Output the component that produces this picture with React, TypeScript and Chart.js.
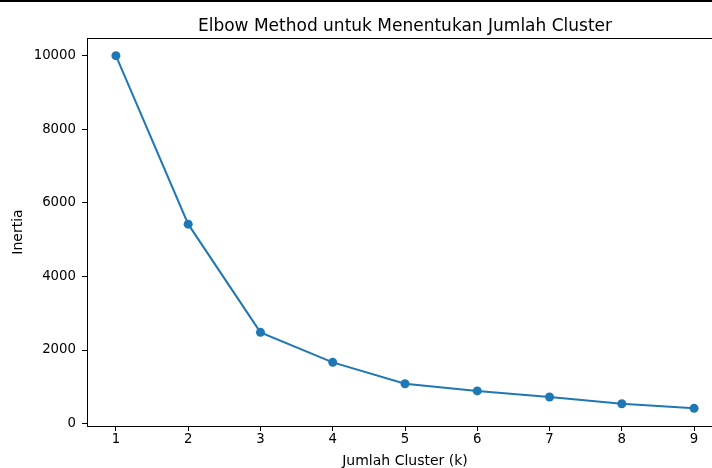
import React, { useEffect, useRef } from "react";
import { Chart, registerables } from "chart.js";

Chart.register(...registerables);

const clusters = [1, 2, 3, 4, 5, 6, 7, 8, 9];
const inertia = [10000, 5420, 2480, 1665, 1085, 890, 725, 540, 415];
const yTicks = [0, 2000, 4000, 6000, 8000, 10000];
const titleText = "Elbow Method untuk Menentukan Jumlah Cluster";
const xLabel = "Jumlah Cluster (k)";
const yLabel = "Inertia";

const FONT = '"DejaVu Sans", sans-serif';

export default function App() {
  const ref = useRef<HTMLCanvasElement | null>(null);

  useEffect(() => {
    const canvas = ref.current;
    if (!canvas) return;
    const xMinD = Math.min(...clusters);
    const xMaxD = Math.max(...clusters);
    const yMinD = Math.min(...inertia);
    const yMaxD = Math.max(...inertia);
    const xm = (xMaxD - xMinD) * 0.05;
    const ym = (yMaxD - yMinD) * 0.05;

    const framePlugin = {
      id: "frame",
      afterDraw(chart: any) {
        const { ctx, chartArea } = chart;
        const { left, top, right, bottom } = chartArea;
        ctx.save();
        ctx.strokeStyle = "#000";
        ctx.lineWidth = 1;
        ctx.strokeRect(left + 0.5, top + 0.5, right - left, bottom - top);
        ctx.fillStyle = "#000";
        ctx.font = `17px ${FONT}`;
        ctx.textAlign = "center";
        ctx.textBaseline = "alphabetic";
        ctx.fillText(titleText, (left + right) / 2, 31);
        ctx.restore();
      },
    };

    const chart = new Chart(canvas, {
      type: "line",
      data: {
        datasets: [
          {
            data: clusters.map((c, i) => ({ x: c, y: inertia[i] })),
            borderColor: "#1f77b4",
            backgroundColor: "#1f77b4",
            borderWidth: 2,
            pointRadius: 4.5,
            pointBorderWidth: 0,
            pointBackgroundColor: "#1f77b4",
            tension: 0,
            fill: false,
          },
        ],
      },
      options: {
        responsive: false,
        animation: false,
        devicePixelRatio: 1,
        layout: { padding: { top: 38, left: 0, right: 7, bottom: 0 } },
        plugins: {
          legend: { display: false },
          title: { display: false },
          tooltip: { enabled: false },
        },
        scales: {
          x: {
            type: "linear",
            min: xMinD - xm,
            max: xMaxD + xm,
            afterBuildTicks: (s: any) => {
              s.ticks = clusters.map((v) => ({ value: v }));
            },
            afterFit: (s: any) => {
              s.height = 44;
            },
            border: { display: false },
            grid: {
              drawOnChartArea: false,
              drawTicks: true,
              tickLength: 5,
              tickColor: "#000",
              tickWidth: 1,
              color: "#000",
            },
            ticks: {
              color: "#000",
              padding: 1,
              maxRotation: 0,
              autoSkip: false,
              font: { family: FONT, size: 13.3 },
              callback: (v: any) => String(v),
            },
            title: {
              display: true,
              text: xLabel,
              color: "#000",
              font: { family: FONT, size: 14 },
              padding: { top: 0, bottom: 0 },
            },
          },
          y: {
            type: "linear",
            min: yMinD - ym,
            max: yMaxD + ym,
            afterBuildTicks: (s: any) => {
              s.ticks = yTicks.map((v) => ({ value: v }));
            },
            afterFit: (s: any) => {
              s.width = 87;
            },
            border: { display: false },
            grid: {
              drawOnChartArea: false,
              drawTicks: true,
              tickLength: 5,
              tickColor: "#000",
              tickWidth: 1,
              color: "#000",
            },
            ticks: {
              color: "#000",
              padding: 6,
              autoSkip: false,
              font: { family: FONT, size: 13.3 },
              callback: (v: any) => String(v),
            },
            title: {
              display: true,
              text: yLabel,
              color: "#000",
              font: { family: FONT, size: 14 },
              padding: { top: 10, bottom: 0 },
            },
          },
        },
      },
      plugins: [framePlugin],
    } as any);

    return () => chart.destroy();
  }, []);

  return (
    <div
      style={{
        position: "fixed",
        left: 0,
        top: 0,
        width: 712,
        height: 468,
        overflow: "hidden",
        background: "#fff",
      }}
    >
      <canvas ref={ref} width={730} height={470} style={{ display: "block", width: 730, height: 470 }} />
      <div
        style={{
          position: "absolute",
          left: 0,
          top: 0,
          width: 712,
          height: 2,
          background: "#000",
        }}
      />
    </div>
  );
}
